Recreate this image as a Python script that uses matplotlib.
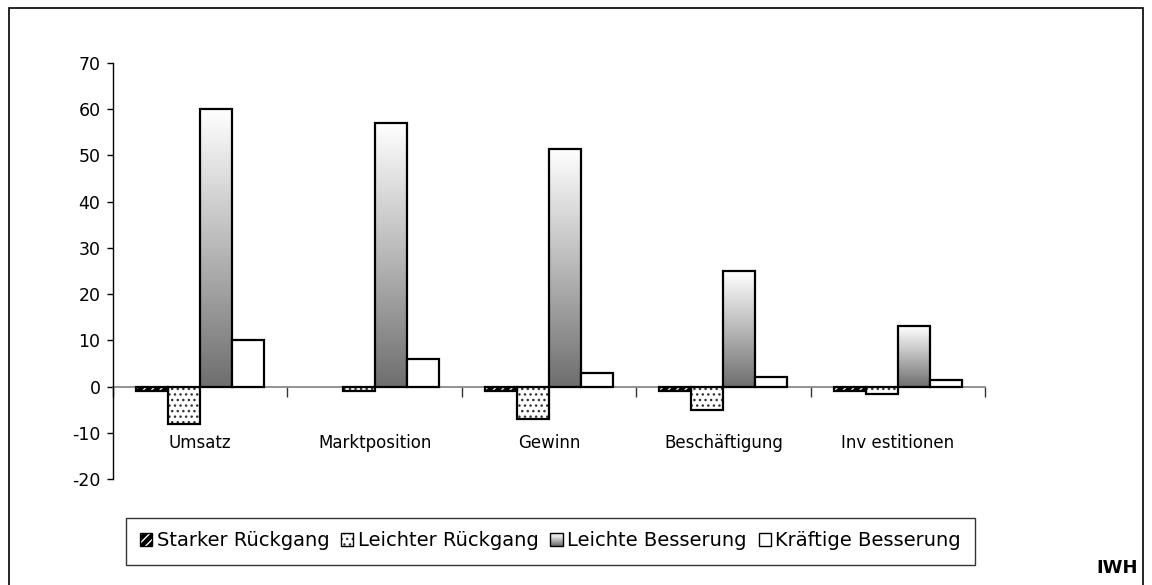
import matplotlib
matplotlib.use("Agg")
import matplotlib.pyplot as plt
import matplotlib.patches as mpatches
from matplotlib.legend_handler import HandlerBase
from matplotlib.colors import LinearSegmentedColormap
import numpy as np

plt.rcParams['font.family'] = ['DejaVu Sans']
plt.rcParams['hatch.linewidth'] = 1.0

categories = ["Umsatz", "Marktposition", "Gewinn", "Beschäftigung", "Inv estitionen"]
series_names = ["Starker Rückgang", "Leichter Rückgang", "Leichte Besserung", "Kräftige Besserung"]
starker_rueckgang = [-1, 0, -1, -1, -1]
leichter_rueckgang = [-8, -1, -7, -5, -1.7]
leichte_besserung = [60, 57, 51.5, 25, 13]
kraeftige_besserung = [10, 6, 3, 2, 1.4]
yticks = [-20, -10, 0, 10, 20, 30, 40, 50, 60, 70]

W, H = 1152, 585
fig = plt.figure(figsize=(W / 100, H / 100), dpi=100)
ax = fig.add_axes([113 / W, 1 - 479 / H, (985 - 113) / W, (479 - 63) / H])

x = np.arange(len(categories))
bw = 0.1835
offs = [-1.5 * bw, -0.5 * bw, 0.5 * bw, 1.5 * bw]
cmap = LinearSegmentedColormap.from_list('g', ['#6e6e6e', '#b8b8b8', '#ffffff'])
lw = 1.6


def nz(vals):
    # zero values draw no bar (no outline on the zero line)
    return np.array([np.nan if v == 0 else v for v in vals], dtype=float)


# Starker Rückgang: black with white diagonal hatch
ax.bar(x + offs[0], nz(starker_rueckgang), bw, color='black', edgecolor='white',
       hatch='////', linewidth=0, zorder=3)
ax.bar(x + offs[0], nz(starker_rueckgang), bw, facecolor='none', edgecolor='black',
       linewidth=lw, zorder=4)
# Leichter Rückgang: dotted
ax.bar(x + offs[1], nz(leichter_rueckgang), bw, color='white', edgecolor='#333333',
       hatch='...', linewidth=0, zorder=3)
ax.bar(x + offs[1], nz(leichter_rueckgang), bw, facecolor='none', edgecolor='black',
       linewidth=lw, zorder=4)
# Leichte Besserung: gradient
grad_bars = ax.bar(x + offs[2], leichte_besserung, bw, facecolor='none', edgecolor='black',
                   linewidth=lw, zorder=4)
grad = np.linspace(0, 1, 256).reshape(-1, 1)
for b in grad_bars:
    x0, w, h = b.get_x(), b.get_width(), b.get_height()
    ax.imshow(grad, extent=[x0, x0 + w, 0, h], origin='lower', aspect='auto',
              cmap=cmap, zorder=3, interpolation='bilinear')
# Kräftige Besserung: white
ax.bar(x + offs[3], nz(kraeftige_besserung), bw, color='white', edgecolor='black',
       linewidth=lw, zorder=4)

ax.set_xlim(-0.5, len(categories) - 0.5)
ax.set_ylim(-20, 70)
ax.set_yticks(yticks)
ax.set_yticklabels([str(v) if v >= 0 else "-" + str(-v) for v in yticks], fontsize=12.5)
ax.tick_params(axis='y', direction='out', length=4, width=1, pad=5, colors='black')

for s in ['top', 'right']:
    ax.spines[s].set_visible(False)
ax.spines['left'].set_linewidth(1.0)
ax.spines['bottom'].set_position(('data', 0))
ax.spines['bottom'].set_color('#808080')
ax.spines['bottom'].set_linewidth(1.2)
ax.spines['bottom'].set_zorder(2)
ax.set_xticks(np.arange(-0.5, len(categories), 1.0))
ax.set_xticklabels([])
ax.tick_params(axis='x', direction='out', length=7, width=1, colors='#333333')

for xi, c in zip(x, categories):
    ax.text(xi, -12.3, c, ha='center', va='center', fontsize=12)


class GradHandler(HandlerBase):
    def create_artists(self, legend, orig_handle, xdescent, ydescent, width, height,
                       fontsize, trans):
        arts = []
        n = 12
        for i in range(n):
            arts.append(mpatches.Rectangle((-xdescent, -ydescent + height * i / n), width,
                                           height / n + 0.3, facecolor=cmap(i / (n - 1)),
                                           edgecolor='none', transform=trans))
        arts.append(mpatches.Rectangle((-xdescent, -ydescent), width, height,
                                       facecolor='none', edgecolor='black', linewidth=1.0,
                                       transform=trans))
        return arts


class HatchHandler(HandlerBase):
    def __init__(self, face, hcolor, hatch):
        super().__init__()
        self.face, self.hcolor, self.hatch = face, hcolor, hatch

    def create_artists(self, legend, orig_handle, xdescent, ydescent, width, height,
                       fontsize, trans):
        a = mpatches.Rectangle((-xdescent, -ydescent), width, height, facecolor=self.face,
                               edgecolor=self.hcolor, hatch=self.hatch, linewidth=0,
                               transform=trans)
        b = mpatches.Rectangle((-xdescent, -ydescent), width, height, facecolor='none',
                               edgecolor='black', linewidth=1.0, transform=trans)
        return [a, b]


handles = [
    mpatches.Patch(label=series_names[0]),
    mpatches.Patch(label=series_names[1]),
    mpatches.Patch(label=series_names[2]),
    mpatches.Patch(facecolor='white', edgecolor='black', label=series_names[3]),
]
hmap = {
    handles[0]: HatchHandler('black', 'white', '////'),
    handles[1]: HatchHandler('white', '#333333', '...'),
    handles[2]: GradHandler(),
}
leg = fig.legend(handles=handles, handler_map=hmap, loc='center', ncol=4,
                 bbox_to_anchor=((124 + 977) / 2 / W, 1 - 541 / H),
                 fontsize=14, frameon=True, fancybox=False, edgecolor='black',
                 handlelength=0.62, handleheight=0.62, handletextpad=0.25,
                 columnspacing=0.6, borderpad=0.72, borderaxespad=0)
leg.get_frame().set_linewidth(1.0)

fig.text(1117 / W, 1 - 568 / H, "IWH", ha='center', va='center', fontsize=13, fontweight='bold')

fig.patches.append(mpatches.Rectangle((9 / W, -0.05), (1143 - 9) / W, 1.05 - 8 / H,
                                      transform=fig.transFigure, fill=False,
                                      edgecolor='black', linewidth=1.2, clip_on=False))

fig.savefig("out.png", dpi=100)
